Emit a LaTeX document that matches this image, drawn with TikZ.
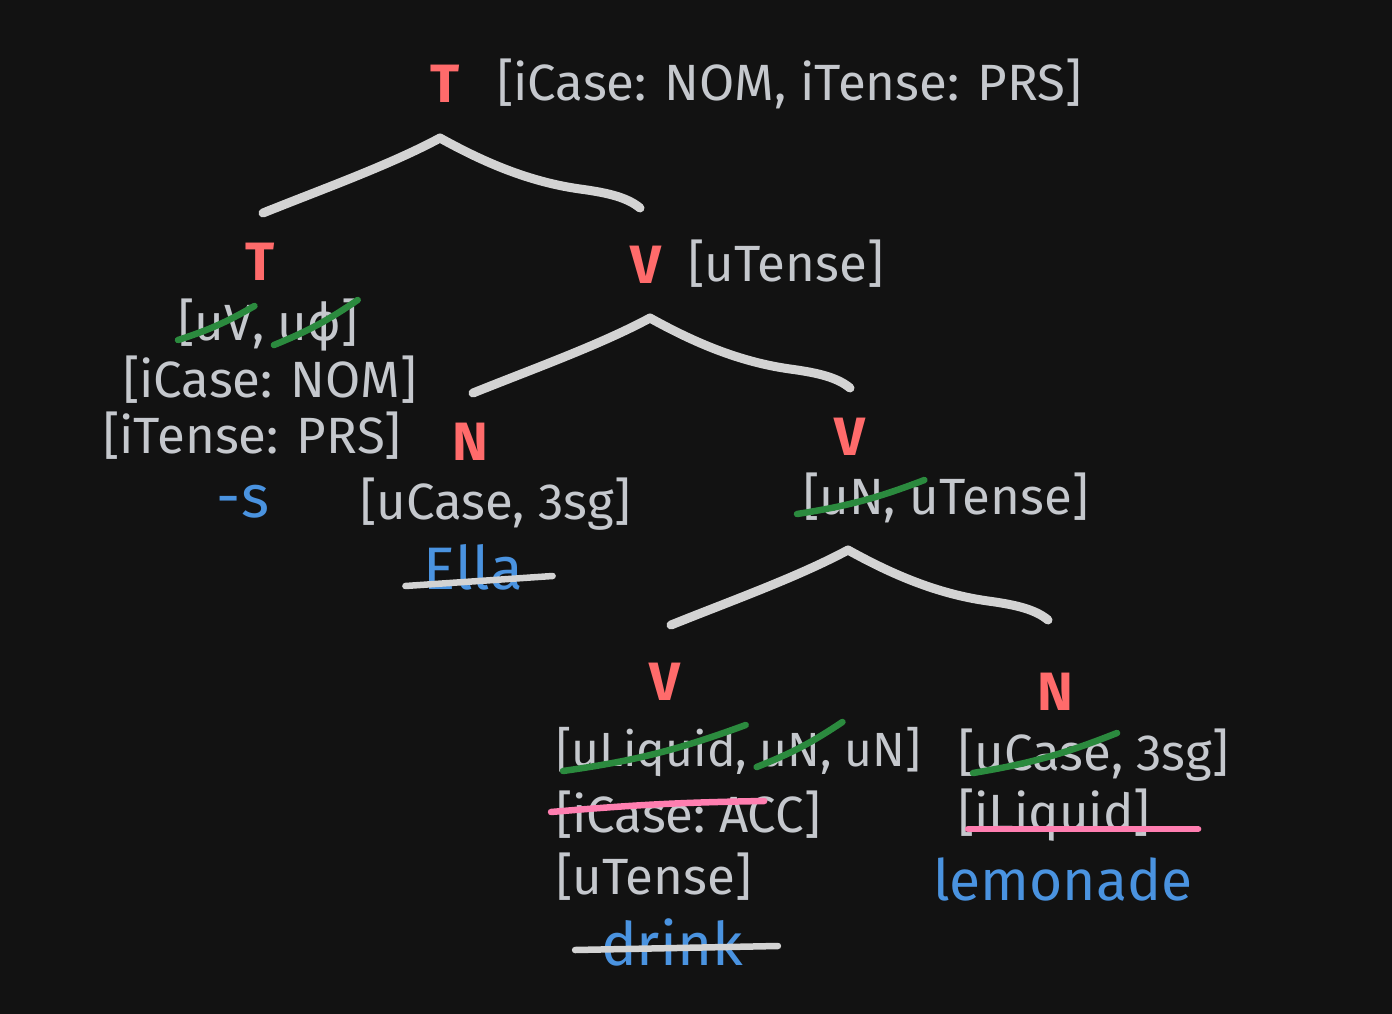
\documentclass[tikz,border=0pt]{standalone}
\usepackage{fontspec}
\setmainfont{Fira Sans}
\newfontfamily\symfont{DejaVu Sans}
\newcommand{\fsp}{\kern0.26em}
\definecolor{bgcol}{HTML}{121212}
\definecolor{fgray}{HTML}{C5C8CD}
\definecolor{catred}{HTML}{FF6B6B}
\definecolor{wblue}{HTML}{4A93E0}
\definecolor{bgray}{HTML}{D3D3D3}
\definecolor{sgreen}{HTML}{2B8A3E}
\definecolor{spink}{HTML}{FF7EB0}
\begin{document}
\begin{tikzpicture}[x=1pt,y=-1pt,
  feat/.style={inner sep=0pt, outer sep=0pt, text=fgray, font=\fontsize{51}{55}\selectfont, anchor=base west},
  featn/.style={feat, font=\fontsize{48}{52}\selectfont},
  cat/.style={inner sep=0pt, outer sep=0pt, text=catred, font=\fontsize{54}{58}\selectfont\bfseries, anchor=base},
  word/.style={inner sep=0pt, outer sep=0pt, text=wblue, font=\fontsize{60}{64}\selectfont, anchor=base},
  branch/.style={draw=bgray, line width=9pt, line cap=round, line join=round},
  gstrike/.style={draw=sgreen, line width=6.5pt, line cap=round},
  pstrike/.style={draw=spink, line width=6.5pt, line cap=round},
  wstrike/.style={draw=bgray, line width=6.5pt, line cap=round},
  branchpic/.pic={\draw[branch] (-177,75) .. controls (-120,52) and (-50,27) .. (0,0)
      .. controls (45,25) and (90,44) .. (140,51) .. controls (170,55) and (188,60) .. (200,70);}
  ]
\fill[bgcol] (0,0) rectangle (1392,1014);
\useasboundingbox (0,0) rectangle (1392,1014);

% top
\node[cat] (T0) at (445,103) {T};
\node[feat] (T0f) at (497,101) {[iCase: NOM, iTense: PRS]};
\pic at (440,138) {branchpic};

% T head
\node[cat] (T1) at (260,280) {T};
\node[feat] (a1) at (178,340) {[};
\node[feat] (a2) at (a1.base east) {uV};
\node[feat] (a3) at (a2.base east) {,\fsp};
\node[feat] (a4) at (a3.base east) {u{\symfont ϕ}};
\node[feat] (a5) at (a4.base east) {]};
\draw[gstrike] (a1.base west) to[bend right=6] ([xshift=2pt,yshift=34pt]a2.base east);
\draw[gstrike] ([xshift=-4pt,yshift=-5pt]a4.base west) to[bend right=6] ([yshift=40pt]a5.base east);
\node[feat] (T1b) at (123,397) {[iCase: NOM]};
\node[feat] (T1c) at (103,453) {[iTense: PRS]};
\node[word] (s) at (243,517) {-s};

% V with uTense
\node[cat] (V1) at (646,283) {V};
\node[feat] (V1f) at (688,281) {[uTense]};
\pic at (650,318) {branchpic};

% N Ella
\node[cat] (N1) at (470,460) {N};
\node[feat] (N1f) at (360,519) {[uCase, 3sg]};
\node[word] (ella) at (473,589) {Ella};
\draw[wstrike] ([xshift=-18pt,yshift=3pt]ella.base west) -- ([xshift=30pt,yshift=13pt]ella.base east);

% V mid
\node[cat] (V2) at (850,455) {V};
\node[feat] (b1) at (803,514) {[};
\node[feat] (b2) at (b1.base east) {uN};
\node[feat] (b3) at (b2.base east) {,\fsp};
\node[feat] (b4) at (b3.base east) {uTense]};
\draw[gstrike] ([xshift=-6pt]b1.base west) to[bend right=6] ([xshift=15pt,yshift=34pt]b4.base west);
\pic at (848,550) {branchpic};

% V bottom
\node[cat] (V3) at (665,700) {V};
\node[featn] (c1) at (556,766) {[};
\node[featn] (c2) at (c1.base east) {uLiquid};
\node[featn] (c3) at (c2.base east) {,\fsp};
\node[featn] (c4) at (c3.base east) {uN};
\node[featn] (c5) at (c4.base east) {,\fsp uN]};
\draw[gstrike] ([xshift=7pt,yshift=-5pt]c1.base west) to[bend right=6] ([xshift=10pt,yshift=41pt]c2.base east);
\draw[gstrike] ([xshift=-3pt,yshift=-1pt]c4.base west) to[bend right=6] ([xshift=22pt,yshift=44pt]c4.base east);
\node[feat] (d1) at (556,832) {[iCase:\fsp};
\node[feat] (d2) at (d1.base east) {ACC]};
\draw[pstrike] ([xshift=-5pt,yshift=20pt]d1.base west) to[bend left=2] ([xshift=45pt,yshift=31pt]d2.base west);
\node[feat] (V3c) at (556,894) {[uTense]};
\node[word] (drink) at (672,965) {drink};
\draw[wstrike] ([xshift=-26pt,yshift=15pt]drink.base west) -- ([xshift=35pt,yshift=19pt]drink.base east);

% N bottom
\node[cat] (N2) at (1055,710) {N};
\node[feat] (e1) at (958,770) {[uCase};
\node[feat] (e2) at (e1.base east) {,\fsp 3sg]};
\draw[gstrike] ([xshift=15pt,yshift=-3pt]e1.base west) to[bend right=6] ([xshift=6pt,yshift=37pt]e1.base east);
\node[feat] (f1) at (958,830) {[iLiquid]};
\draw[pstrike] ([xshift=10pt,yshift=1pt]f1.base west) -- ([xshift=48pt,yshift=1pt]f1.base east);
\node[word, anchor=base west, font=\fontsize{57}{61}\selectfont] (lem) at (933,900) {lemonade};
\end{tikzpicture}
\end{document}
